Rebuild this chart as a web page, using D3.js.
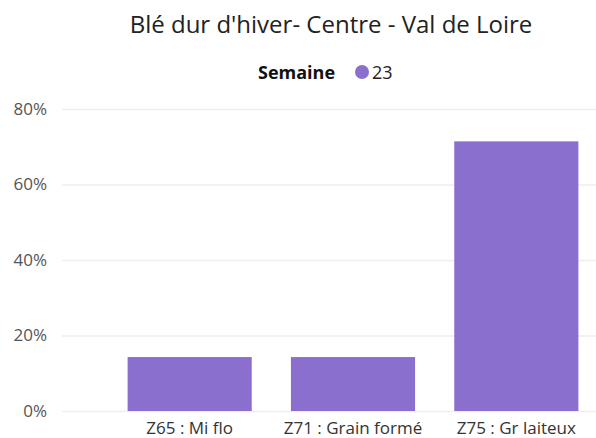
<!DOCTYPE html>
<html>
<head>
<meta charset="utf-8">
<script src="https://cdn.jsdelivr.net/npm/d3@7"></script>
<style>
  body { margin: 0; background: #fff; }
  text { font-family: 'Open Sans', sans-serif; }
</style>
</head>
<body>
<svg width="596" height="438"></svg>
<script>
const categories = ['Z65 : Mi flo', 'Z71 : Grain formé', 'Z75 : Gr laiteux'];
const values = [14.29, 14.29, 71.43];
const yTicks = [0, 20, 40, 60, 80];
const seriesName = '23';

const svg = d3.select('svg');
const width = +svg.attr('width');

const xScale = d3.scaleBand()
    .domain(categories)
    .range([108, 598])
    .paddingInner(0.24)
    .paddingOuter(0.12);

const yScale = d3.scaleLinear()
    .domain([0, 80])
    .range([411, 109]);

// gridlines + y labels
const yAxis = d3.axisLeft(yScale)
    .tickValues(yTicks)
    .tickSize(-(width - 62))
    .tickPadding(15)
    .tickFormat(d => d + '%');

const yAxisG = svg.append('g')
    .attr('transform', 'translate(62, 0)')
    .call(yAxis);
yAxisG.select('.domain').remove();
yAxisG.selectAll('line').attr('stroke', '#eeeeee').attr('stroke-width', 1.5);
yAxisG.selectAll('text')
    .attr('fill', '#555')
    .style('font-size', '17px');

svg.append('g')
    .selectAll('rect')
    .data(values)
    .enter()
    .append('rect')
    .attr('x', (d, i) => xScale(categories[i]))
    .attr('y', d => yScale(d))
    .attr('width', xScale.bandwidth())
    .attr('height', d => yScale(0) - yScale(d))
    .attr('fill', '#8b6fcf');

const xAxisG = svg.append('g')
    .attr('transform', 'translate(0, 411)')
    .call(d3.axisBottom(xScale).tickSize(0).tickPadding(11));
xAxisG.select('.domain').remove();
xAxisG.selectAll('text')
    .attr('fill', '#333')
    .style('font-size', '17px');

svg.append('text')
    .attr('x', 331)
    .attr('y', 33)
    .attr('text-anchor', 'middle')
    .attr('fill', '#222')
    .style('font-size', '24px')
    .text("Blé dur d'hiver- Centre - Val de Loire");

// legend
const legend = svg.append('g');
legend.append('text')
    .attr('x', 258)
    .attr('y', 79)
    .attr('fill', '#111')
    .style('font-size', '18px')
    .style('font-weight', 'bold')
    .text('Semaine');
legend.append('circle')
    .attr('cx', 362)
    .attr('cy', 72)
    .attr('r', 7)
    .attr('fill', '#8b6fcf');
legend.append('text')
    .attr('x', 372)
    .attr('y', 79)
    .attr('fill', '#222')
    .style('font-size', '18px')
    .text(seriesName);
</script>
</body>
</html>
